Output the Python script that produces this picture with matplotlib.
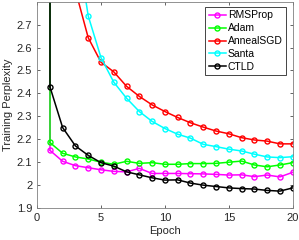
import matplotlib.pyplot as plt
import numpy as np
from matplotlib.ticker import FormatStrFormatter
plt.rcParams.update({'font.size': 7.5, 'font.family': 'Liberation Sans'})

epochs = [1, 1, 2, 3, 4, 5, 6, 7, 8, 9, 10, 11, 12, 13, 14, 15, 16, 17, 18, 19, 20]
names = ['RMSProp', 'Adam', 'AnnealSGD', 'Santa', 'CTLD']
colors = ['magenta', 'lime', 'red', 'cyan', 'black']

rmsprop = [3.5, 2.152, 2.104, 2.085, 2.076, 2.067, 2.060, 2.058, 2.073, 2.051, 2.051,
           2.051, 2.050, 2.049, 2.047, 2.044, 2.045, 2.037, 2.044, 2.036, 2.056]
adam = [3.5, 2.186, 2.139, 2.123, 2.114, 2.100, 2.091, 2.104, 2.095, 2.098, 2.091,
        2.091, 2.094, 2.094, 2.095, 2.100, 2.105, 2.088, 2.080, 2.088, 2.098]
anneal = [5.0, 4.0, 3.2, 2.85, 2.643, 2.536, 2.494, 2.431, 2.387, 2.350, 2.321,
          2.295, 2.272, 2.253, 2.236, 2.224, 2.207, 2.197, 2.192, 2.180, 2.180]
santa = [7.0, 6.0, 4.0, 3.10, 2.738, 2.556, 2.449, 2.379, 2.321, 2.278, 2.247,
         2.222, 2.205, 2.178, 2.168, 2.157, 2.149, 2.135, 2.123, 2.120, 2.124]
ctld = [3.5, 2.430, 2.251, 2.171, 2.130, 2.098, 2.083, 2.058, 2.045, 2.032, 2.022,
        2.023, 2.009, 2.000, 1.994, 1.988, 1.985, 1.983, 1.977, 1.974, 1.988]

fig = plt.figure(figsize=(2.99, 2.4), dpi=100)
ax = fig.add_axes([0.124, 0.133, 0.855, 0.86])

for y, c, n in zip([rmsprop, adam, anneal, santa, ctld], colors, names):
    ax.plot(epochs[:2], y[:2], '-', color=c, lw=1.1)
    ax.plot(epochs[1:], y[1:], '-o', color=c, label=n, lw=1.1, markersize=3.6,
            markerfacecolor='none', markeredgewidth=1.0)

ax.set_xlim(0, 20)
ax.set_ylim(1.9, 2.8)
ax.set_xticks([0, 5, 10, 15, 20])
ax.set_yticks(np.arange(1.9, 2.75, 0.1))
ax.yaxis.set_major_formatter(FormatStrFormatter('%g'))
ax.tick_params(direction='in', top=True, right=True, length=2.5, width=0.5,
               colors='#262626', pad=3.5, labelsize=8)
for s in ax.spines.values():
    s.set_color('#808080')
    s.set_linewidth(0.6)
ax.set_xlabel('Epoch', labelpad=2, color='#262626', fontsize=8)
ax.set_ylabel('Training Perplexity', labelpad=2.5, color='#262626', fontsize=8)

leg = ax.legend(loc='upper right', bbox_to_anchor=(0.956, 0.97), bbox_transform=fig.transFigure,
                fancybox=False, framealpha=1, edgecolor='#262626',
                handlelength=1.65, handletextpad=0.2, borderpad=0.3, labelspacing=0.28,
                borderaxespad=0)
leg.get_frame().set_linewidth(0.6)

fig.savefig('out.png', dpi=100)
